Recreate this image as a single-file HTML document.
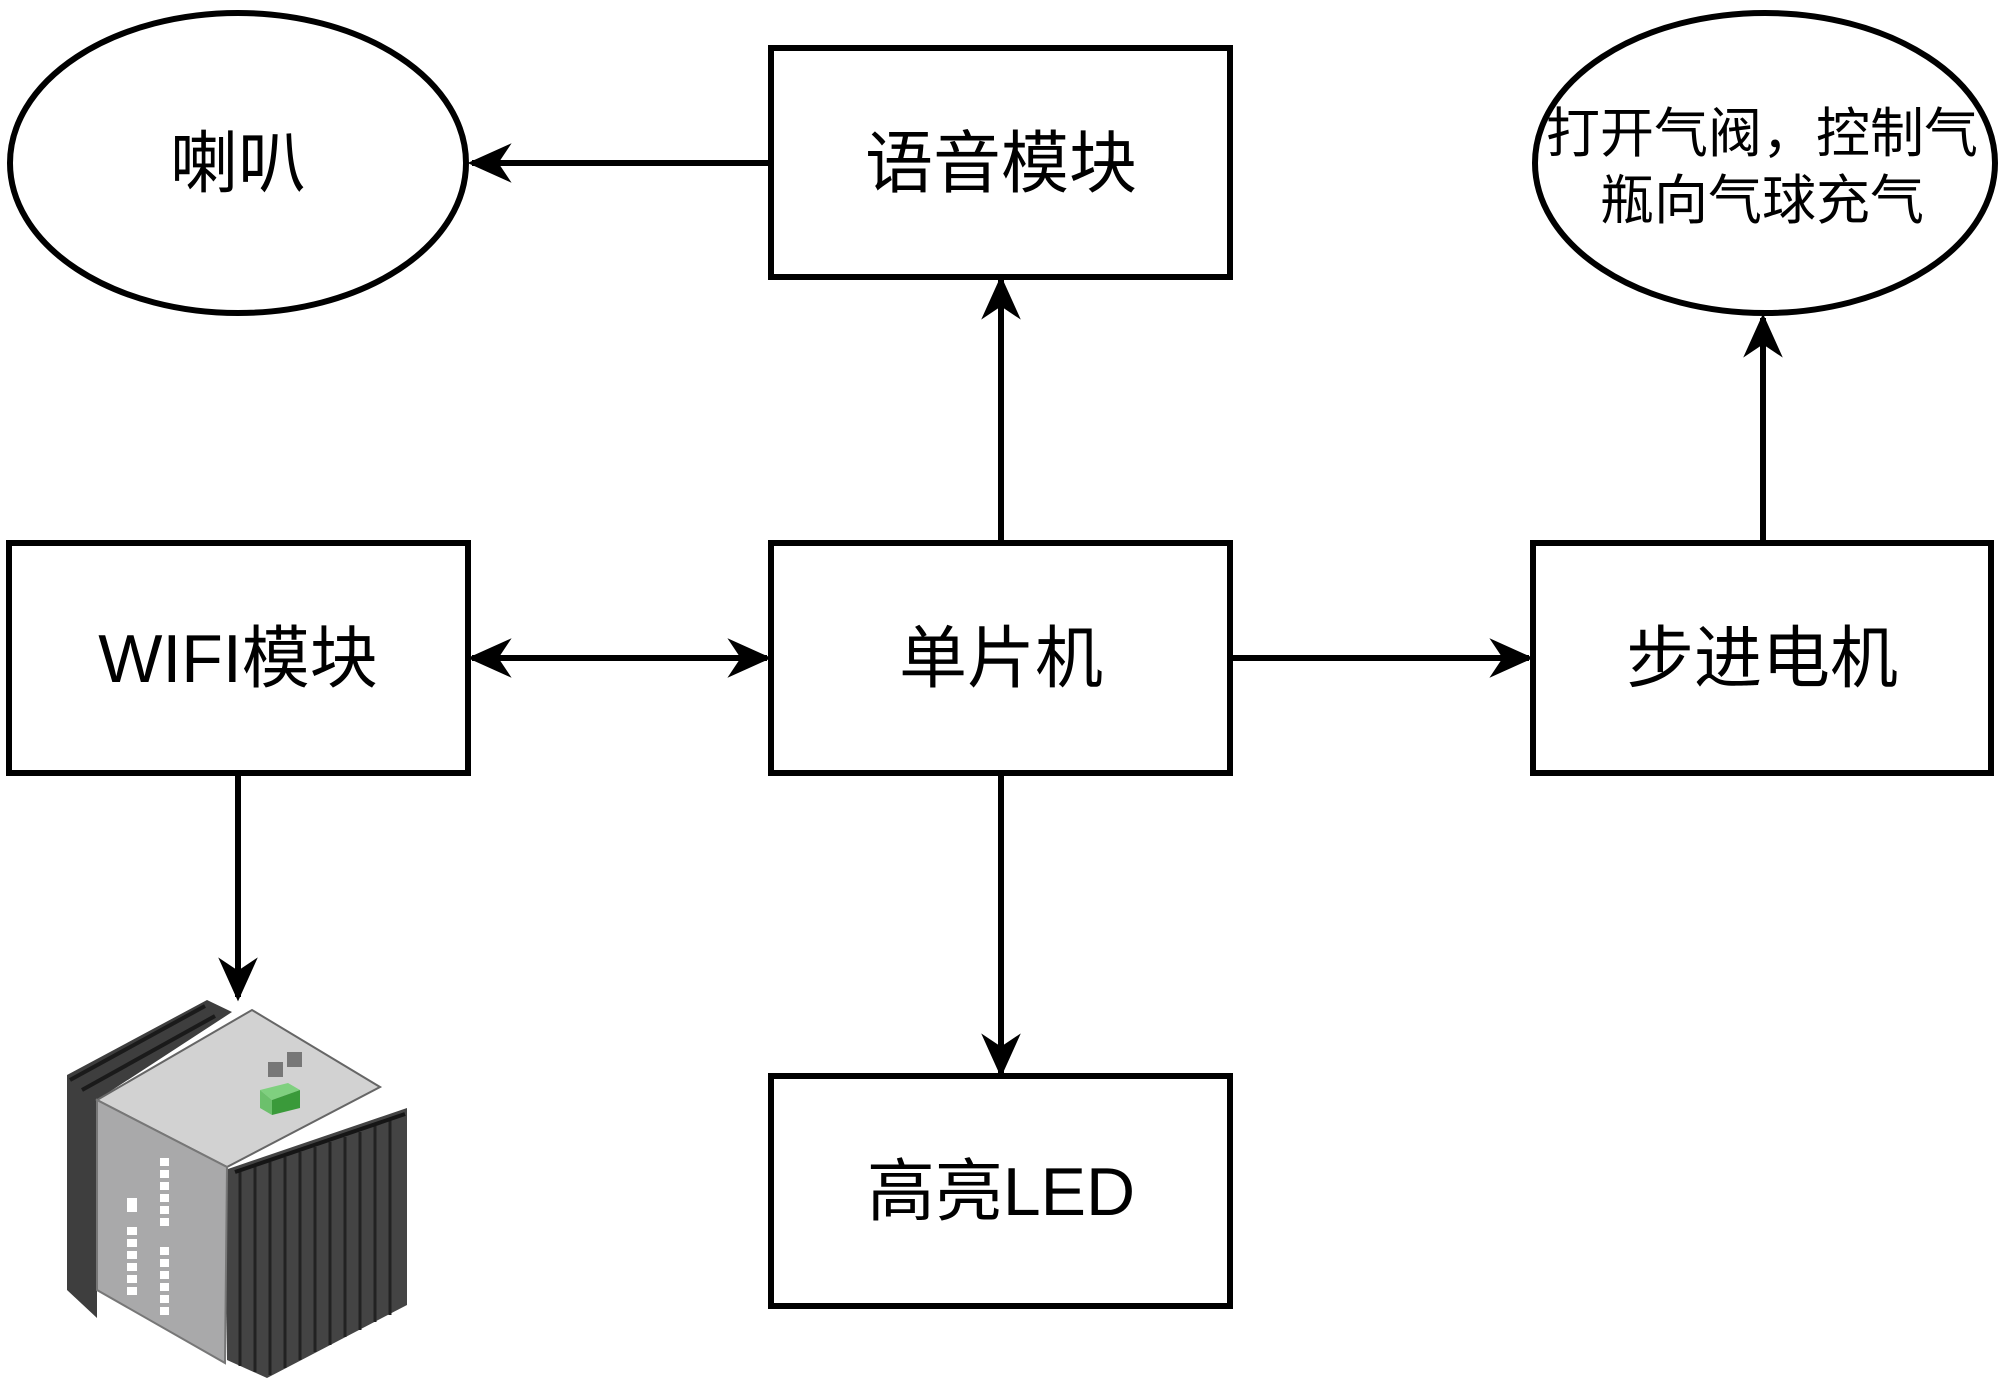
<!DOCTYPE html>
<html><head><meta charset="utf-8"><style>
html,body{margin:0;padding:0;background:#fff;}
svg{display:block;}
text{font-family:"Liberation Sans","Noto Sans CJK SC",sans-serif;fill:#000;}
</style></head><body>
<svg width="2000" height="1385" viewBox="0 0 2000 1385" xmlns="http://www.w3.org/2000/svg">
<defs>
<marker id="b" viewBox="0 0 20 20" refX="18" refY="10" markerWidth="44" markerHeight="44" markerUnits="userSpaceOnUse" orient="auto-start-reverse">
<path d="M0,1 L20,10 L0,19 L6,10 Z" fill="#000"/></marker>
</defs>
<g fill="#fff" stroke="#000" stroke-width="6">
<ellipse cx="238" cy="163" rx="228" ry="150"/>
<ellipse cx="1765" cy="163" rx="230" ry="150"/>
<rect x="771" y="48" width="459" height="229"/>
<rect x="9" y="543" width="459" height="230"/>
<rect x="771" y="543" width="459" height="230"/>
<rect x="1533" y="543" width="458" height="230"/>
<rect x="771" y="1076" width="459" height="230"/>
</g>
<g stroke="#000" stroke-width="6" fill="none">
<line x1="770" y1="163" x2="472" y2="163" marker-end="url(#b)"/>
<line x1="1001" y1="542" x2="1001" y2="280" marker-end="url(#b)"/>
<line x1="472" y1="658" x2="767" y2="658" marker-start="url(#b)" marker-end="url(#b)"/>
<line x1="1232" y1="658" x2="1529" y2="658" marker-end="url(#b)"/>
<line x1="1763" y1="542" x2="1763" y2="318" marker-end="url(#b)"/>
<line x1="1001" y1="774" x2="1001" y2="1073" marker-end="url(#b)"/>
<line x1="238" y1="774" x2="238" y2="997" marker-end="url(#b)"/>
</g>
<g font-size="68" text-anchor="middle">
<text x="238" y="187">喇叭</text>
<text x="1001" y="187">语音模块</text>
<text x="238" y="682">WIFI模块</text>
<text x="1001" y="682">单片机</text>
<text x="1762" y="682">步进电机</text>
<text x="1001" y="1215">高亮LED</text>
</g>
<g font-size="54" text-anchor="middle">
<text x="1762" y="152">打开气阀，控制气</text>
<text x="1762" y="219">瓶向气球充气</text>
</g>
<!-- device -->
<g>
<polygon points="67,1075 207,1000 232,1012 97,1100 97,1318 67,1290" fill="#3e3e3e"/>
<g stroke="#1a1a1a" stroke-width="4">
<line x1="70" y1="1080" x2="205" y2="1006"/><line x1="82" y1="1090" x2="215" y2="1016"/>
</g>
<polygon points="225,1170 407,1108 407,1305 267,1378 227,1360" fill="#444"/>
<g stroke="#222" stroke-width="3">
<line x1="240" y1="1172" x2="240" y2="1366"/><line x1="255" y1="1167" x2="255" y2="1372"/><line x1="270" y1="1162" x2="270" y2="1375"/>
<line x1="285" y1="1157" x2="285" y2="1368"/><line x1="300" y1="1152" x2="300" y2="1360"/>
<line x1="315" y1="1147" x2="315" y2="1352"/><line x1="330" y1="1142" x2="330" y2="1345"/>
<line x1="345" y1="1137" x2="345" y2="1337"/><line x1="360" y1="1132" x2="360" y2="1330"/>
<line x1="375" y1="1126" x2="375" y2="1322"/><line x1="390" y1="1120" x2="390" y2="1315"/>
</g>
<g stroke="#151515" stroke-width="4">
<line x1="235" y1="1172" x2="405" y2="1114"/>
</g>
<polygon points="97,1100 252,1010 380,1087 227,1167" fill="#d2d2d2" stroke="#666" stroke-width="2"/>
<polygon points="97,1100 227,1167 225,1363 97,1290" fill="#a9a9aa" stroke="#777" stroke-width="2"/>
<polygon points="260,1090 288,1083 300,1090 272,1100" fill="#7fd07f"/>
<polygon points="272,1100 300,1090 300,1108 272,1115" fill="#3a9a3a"/>
<polygon points="260,1090 272,1100 272,1115 260,1108" fill="#6cc06c"/>
<rect x="268" y="1062" width="15" height="15" fill="#777"/><rect x="287" y="1052" width="15" height="15" fill="#777"/>
<g fill="#fff">
<rect x="160" y="1158" width="9" height="8"/><rect x="160" y="1170" width="9" height="8"/><rect x="160" y="1182" width="9" height="8"/><rect x="160" y="1194" width="9" height="8"/><rect x="160" y="1206" width="9" height="8"/><rect x="160" y="1218" width="9" height="8"/>
<rect x="127" y="1198" width="10" height="14"/>
<rect x="127" y="1227" width="10" height="8"/><rect x="127" y="1239" width="10" height="8"/><rect x="127" y="1251" width="10" height="8"/><rect x="127" y="1263" width="10" height="8"/><rect x="127" y="1275" width="10" height="8"/><rect x="127" y="1287" width="10" height="8"/>
<rect x="160" y="1247" width="9" height="8"/><rect x="160" y="1259" width="9" height="8"/><rect x="160" y="1271" width="9" height="8"/><rect x="160" y="1283" width="9" height="8"/><rect x="160" y="1295" width="9" height="8"/><rect x="160" y="1307" width="9" height="8"/>
</g>
</g>
</svg>
</body></html>
